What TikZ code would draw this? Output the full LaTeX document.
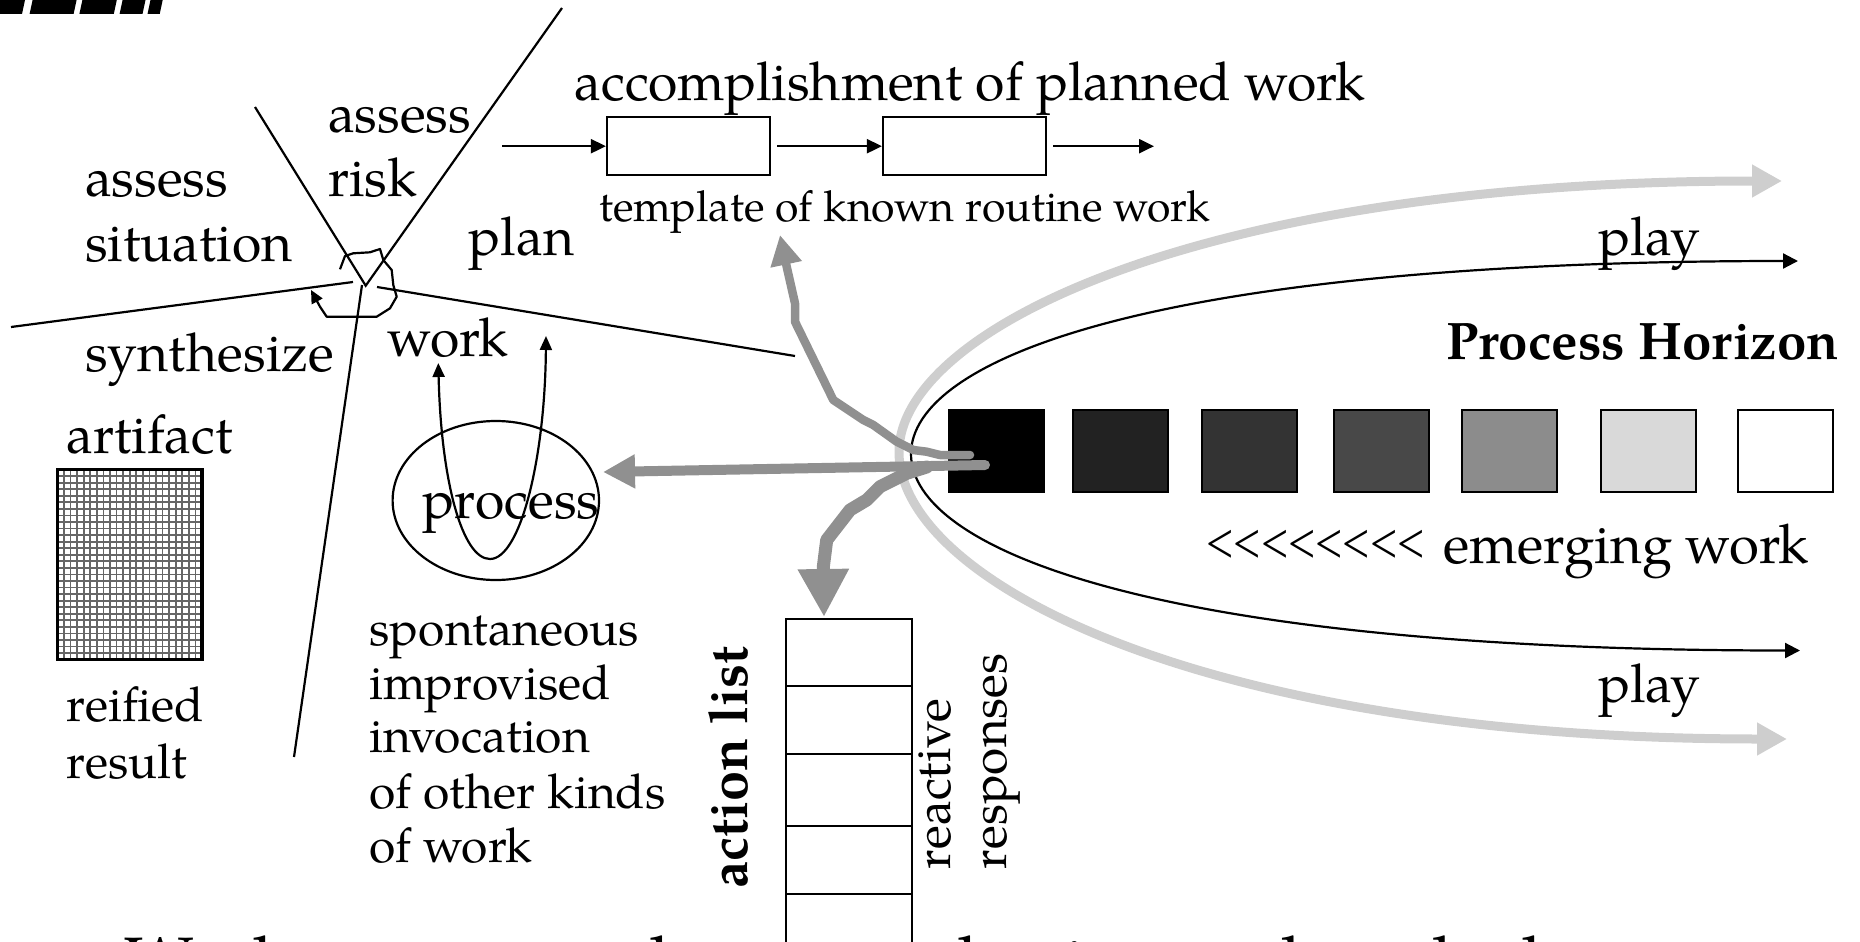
\documentclass[tikz,border=0pt]{standalone}
\usepackage{graphicx}
\usepackage{fontspec}
\setmainfont{TeX Gyre Pagella}
\newfontfamily\timesf{Liberation Serif}
\usetikzlibrary{arrows.meta,shapes.geometric}
\definecolor{hubgrey}{HTML}{909090}
\definecolor{lightgrey}{HTML}{CECECE}
\definecolor{gridgrey}{HTML}{666666}
\definecolor{sqb}{HTML}{222222}
\definecolor{sqc}{HTML}{333333}
\definecolor{sqd}{HTML}{484848}
\definecolor{sqe}{HTML}{8C8C8C}
\definecolor{sqf}{HTML}{D9D9D9}
\newcommand{\myltrow}{<\kern0pt<\kern0pt<\kern0pt<\kern0pt<\kern0pt<\kern0pt<\kern0pt<}
\begin{document}
\begin{tikzpicture}[x=1pt,y=-1pt,line width=2.2pt,
 lbl/.style={inner sep=0pt,outer sep=0pt,anchor=base west,font=\fontsize{53.5}{60}\selectfont},
 lblsm/.style={lbl,font=\fontsize{48}{54}\selectfont},
 lbltpl/.style={lbl,font=\fontsize{42.7}{48}\selectfont},
 lblrot/.style={lbl,rotate=90,font=\fontsize{49.5}{56}\selectfont},
 lblbf/.style={lbl,font=\fontsize{52.8}{58}\selectfont\bfseries},
 lblbig/.style={lbl,font=\fontsize{70}{80}\selectfont},
 blk/.style={-{Triangle[length=15pt,width=14pt]}},
 hub/.style={draw=hubgrey,line cap=round,line join=round},
 sq/.style={draw=black,line width=2pt,minimum width=95pt,minimum height=82pt,inner sep=0pt,anchor=north west},
 cell/.style={draw=black,fill=white,line width=2pt,minimum width=125.5pt,inner sep=0pt,anchor=north west},
 tbox/.style={draw=black,line width=2.2pt,minimum width=163pt,minimum height=57.7pt,inner sep=0pt}
]
\useasboundingbox (0,0) rectangle (1860,942);

% header remnants (top-left)
\foreach \a/\b in {-5/23,30.6/74.6,80.4/114.8,120.6/143.5,148.5/160.7}{
  \fill[black] (\a+2,0) -- (\b+2,0) -- (\b-1,14) -- (\a-1,14) -- cycle;}

% partially visible bottom text line
\begin{scope}
\clip (0,0) rectangle (1860,942);
\node[lblbig] (bw1) at (124,986) {Work};
\node[lblbig] (bw2) at (627,986) {the};
\node[lblbig] (bw3) at (958,986) {horizon};
\node[lblbig] (bw4) at (1283,986) {be};
\node[lblbig] (bw5) at (1410,986) {dealt};
\end{scope}

% ---------- star of activities ----------
\coordinate (Vb) at (365.7,285.7);
\coordinate (Vl) at (255,107);
\coordinate (Vr) at (562,8);
\coordinate (Ll) at (11,327);
\coordinate (Lle) at (353,282);
\coordinate (Lrs) at (377,287);
\coordinate (Lr) at (795,356);
\coordinate (Lds) at (362,285);
\coordinate (Ld) at (294,757);
\draw (Vl) -- (Vb) -- (Vr);
\draw (Ll) -- (Lle);
\draw (Lrs) -- (Lr);
\draw (Lds) -- (Ld);
% hand-drawn loop
\coordinate (loopS) at (340,269.3);
\coordinate (loopE) at (311,290);
\draw[-{Triangle[length=13pt,width=12pt]},line join=round] (loopS) -- (345,256) -- (353.3,253.3) -- (370,252.3) -- (380,249) -- (383.3,260) -- (391.7,270) -- (393.3,285) -- (396.7,296.7) -- (390,308.3) -- (376.7,316.7) -- (326.7,316.7) -- (320,306.7) -- (loopE);

\node[lbl] (tAr1) at (328,132.7) {assess};
\node[lbl] (tAr2) at (328,196.7) {risk};
\node[lbl] (tAs1) at (85,196.7) {assess};
\node[lbl] (tAs2) at (85,261.7) {situation};
\node[lbl] (tPlan) at (468.6,255) {plan};
\node[lbl] (tSyn) at (85,371.7) {synthesize};
\node[lbl] (tWork) at (387.5,356.7) {work};

% artifact
\node[lbl] (tArt) at (66.6,453.5) {artifact};
\foreach \i in {0,...,22}{\draw[gridgrey,line width=1.8pt] ({57.4+\i*6.573},469.6) -- ({57.4+\i*6.573},659.6);}
\foreach \j in {0,...,29}{\draw[gridgrey,line width=1.8pt] (57.4,{469.6+\j*6.552}) -- (202,{469.6+\j*6.552});}
\node[draw=black,line width=3.2pt,minimum width=144.6pt,minimum height=190pt,inner sep=0pt] (art) at (129.7,564.6) {};
\node[lblsm] (tRei1) at (66.6,721.5) {reified};
\node[lblsm] (tRei2) at (66.6,778.5) {result};

% process ellipse and U arrow
\node[draw=black,ellipse,minimum width=206.4pt,minimum height=159pt,inner sep=0pt] (procE) at (495.8,500.5) {};
\node[lbl] (tProc) at (422.4,518) {process};
\coordinate (uL) at (438.3,363);
\coordinate (uB) at (490,559);
\coordinate (uR) at (546,336);
\draw[{Triangle[length=14pt,width=12pt]}-{Triangle[length=14pt,width=12pt]}] (uL) .. controls (441,480) and (462,559) .. (uB) .. controls (520,559) and (545,460) .. (uR);

\node[lblsm] (tSp1) at (369.6,645) {spontaneous};
\node[lblsm] (tSp2) at (369.6,699) {improvised};
\node[lblsm] (tSp3) at (369.6,752.8) {invocation};
\node[lblsm] (tSp4) at (369.6,808.3) {of other kinds};
\node[lblsm] (tSp5) at (369.6,862) {of work};

% ---------- planned work ----------
\node[lbl] (tAcc) at (574.5,100) {accomplishment of planned work};
\node[tbox] (b1) at (688.5,146.2) {};
\node[tbox] (b2) at (964.5,146.2) {};
\coordinate (aIn) at (502,146.2);
\coordinate (aOut) at (1154,146.2);
\draw[blk] (aIn) -- (b1.west);
\draw[blk] ([xshift=6pt]b1.east) -- (b2.west);
\draw[blk] ([xshift=6pt]b2.east) -- (aOut);
\node[lbltpl] (tTpl) at (599.4,221.7) {template of known routine work};

% ---------- process horizon ----------
\coordinate (gU) at (1782,181);
\coordinate (gV) at (899,452);
\coordinate (gD) at (1787,739);
\draw[lightgrey,line width=9pt,{Triangle[length=30pt,width=31pt]}-{Triangle[length=30pt,width=31pt]}]
  (gU) .. controls (1200,181) and (899,330) .. (gV) .. controls (899,580) and (1200,739) .. (gD);
\coordinate (kU) at (1798,261);
\coordinate (kV) at (911,454);
\coordinate (kD) at (1800,650.5);
\draw[line width=2.2pt,{Triangle[length=15pt,width=15pt]}-{Triangle[length=15pt,width=15pt]}]
  (kU) .. controls (1150,261) and (911,360) .. (kV) .. controls (911,548) and (1150,650.5) .. (kD);

\node[sq,fill=black] (s1) at (948.3,409) {};
\node[sq,fill=sqb] (s2) at (1072.3,409) {};
\node[sq,fill=sqc] (s3) at (1200.5,409) {};
\node[sq,fill=sqd] (s4) at (1332.6,409) {};
\node[sq,fill=sqe] (s5) at (1461,409) {};
\node[sq,fill=sqf] (s6) at (1599.8,409) {};
\node[sq,fill=white] (s7) at (1736.6,409) {};

\node[lbl] (tPlay1) at (1598,255) {play};
\node[lbl] (tPlay2) at (1598,702.5) {play};
\node[lblbf] (tPH) at (1446,359) {Process Horizon};
\node[lbl] (tEmL) at (1206.7,563) {\resizebox{218pt}{\height}{\timesf\fontsize{58}{64}\selectfont\myltrow}};
\node[lbl,font=\fontsize{54.5}{60}\selectfont] (tEm) at (1443,563) {emerging work};

% ---------- action list ----------
\node[cell,minimum height=67.5pt] (c1) at (785,617.7) {};
\node[cell,minimum height=67.6pt] (c2) at (785,685.2) {};
\node[cell,minimum height=72.6pt] (c3) at (785,752.8) {};
\node[cell,minimum height=67.6pt] (c4) at (785,825.4) {};
\node[cell,minimum height=80pt] (c5) at (785,893) {};
\node[lbl,rotate=90,font=\fontsize{54}{60}\selectfont\bfseries] (tAL) at (747.8,888) {action list};
\node[lblrot] (tRe1) at (950.7,869) {reactive};
\node[lblrot] (tRe2) at (1006,869) {responses};

% ---------- hub arrows ----------
\coordinate (hubA) at (970,455);
\coordinate (hubB) at (985,465);
\coordinate (hubC) at (926.7,467);
\coordinate (upTip) at (780,235);
\coordinate (procTip) at (603,472);
\coordinate (dnTip) at (824,617);
\draw[hub,line width=8.5pt,-{Triangle[length=30pt,width=30pt]}] (hubA) -- (940,455) -- (926.7,451.7) -- (913.3,450) -- (896.7,441.7) -- (873.3,425) -- (863.3,420) -- (833.3,400) -- (795,321.7) -- (795,303.3) -- (786.7,266.7) -- (upTip);
\draw[hub,line width=10pt,-{Triangle[length=32pt,width=32pt]}] (hubB) -- (procTip);
\draw[hub,line width=13pt,-{Triangle[length=48pt,width=48pt]}] (hubC) -- (906.7,473.3) -- (880,486.7) -- (866.7,500) -- (850,510) -- (826.7,540) -- (823.3,567) -- (dnTip);
\end{tikzpicture}
\end{document}
